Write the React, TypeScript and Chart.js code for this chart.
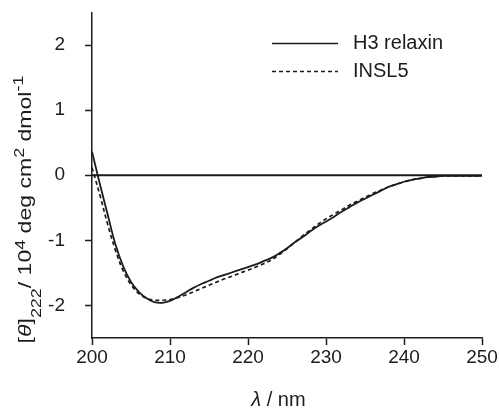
import React, { useEffect, useRef } from 'react';
import { Chart, registerables } from 'chart.js';

Chart.register(...registerables);

const wavelengths = [
  200, 201, 202, 203, 204, 205, 206, 207, 208, 209,
  210, 211, 212, 213, 214, 215, 216, 217, 218, 219,
  220, 221, 222, 223, 224, 225, 226, 227, 228, 229,
  230, 231, 232, 233, 234, 235, 236, 237, 238, 239,
  240, 241, 242, 243, 244, 245, 246, 247, 248, 249, 250,
];

const h3Relaxin = [
  0.36, -0.13, -0.6, -1.06, -1.4, -1.64, -1.79, -1.89, -1.95, -1.96,
  -1.93, -1.87, -1.8, -1.73, -1.67, -1.62, -1.57, -1.53, -1.49, -1.45,
  -1.41, -1.37, -1.32, -1.27, -1.2, -1.12, -1.03, -0.95, -0.86, -0.78,
  -0.71, -0.64, -0.56, -0.49, -0.42, -0.36, -0.3, -0.24, -0.18, -0.14,
  -0.1, -0.07, -0.05, -0.03, -0.02, -0.01, -0.01, -0.01, -0.01, -0.01, -0.01,
];

const insl5 = [
  0.12, -0.3, -0.75, -1.15, -1.47, -1.68, -1.82, -1.89, -1.92, -1.92,
  -1.91, -1.88, -1.84, -1.79, -1.74, -1.69, -1.64, -1.59, -1.55, -1.5,
  -1.46, -1.41, -1.36, -1.3, -1.22, -1.13, -1.03, -0.93, -0.84, -0.75,
  -0.67, -0.6, -0.53, -0.46, -0.4, -0.34, -0.28, -0.23, -0.18, -0.14,
  -0.1, -0.07, -0.05, -0.03, -0.02, -0.01, -0.01, -0.01, -0.01, -0.01, -0.01,
];

const xTicks = [200, 210, 220, 230, 240, 250];
const yTicks = [-2, -1, 0, 1, 2];
const seriesNames = ['H3 relaxin', 'INSL5'];

const FONT = '"Liberation Sans", Arial, Helvetica, sans-serif';
const INK = '#1c1c1c';

const overlayPlugin = {
  id: 'overlay',
  afterDraw(chart: any) {
    const ctx = chart.ctx as CanvasRenderingContext2D;
    ctx.save();
    ctx.fillStyle = INK;
    ctx.strokeStyle = INK;

    // Legend
    const lx0 = 272;
    const lx1 = 338;
    const rows = [43.5, 71.5];
    rows.forEach((y, i) => {
      ctx.beginPath();
      ctx.lineWidth = 1.5;
      ctx.setLineDash(i === 0 ? [] : [4, 3]);
      ctx.moveTo(lx0, y);
      ctx.lineTo(lx1, y);
      ctx.stroke();
      ctx.setLineDash([]);
      ctx.font = `20px ${FONT}`;
      ctx.textBaseline = 'middle';
      ctx.textAlign = 'left';
      ctx.fillText(seriesNames[i], 353, y);
    });

    // X title: λ / nm
    ctx.textBaseline = 'alphabetic';
    ctx.textAlign = 'left';
    const xParts = [
      { t: 'λ', f: `italic 20px ${FONT}` },
      { t: ' / nm', f: `20px ${FONT}` },
    ];
    let tw = 0;
    xParts.forEach((p) => { ctx.font = p.f; tw += ctx.measureText(p.t).width; });
    let cx = 278.5 - tw / 2;
    xParts.forEach((p) => { ctx.font = p.f; ctx.fillText(p.t, cx, 406); cx += ctx.measureText(p.t).width; });

    // Y title rotated
    const yParts = [
      { t: '[', f: `18px ${FONT}`, dy: 0 },
      { t: 'θ', f: `italic 18px ${FONT}`, dy: 0 },
      { t: ']', f: `18px ${FONT}`, dy: 0 },
      { t: '222', f: `14px ${FONT}`, dy: 10 },
      { t: '/ 10', f: `18px ${FONT}`, dy: 0 },
      { t: '4', f: `14px ${FONT}`, dy: -6 },
      { t: ' deg cm', f: `18px ${FONT}`, dy: 0 },
      { t: '2', f: `14px ${FONT}`, dy: -7 },
      { t: ' dmol', f: `18px ${FONT}`, dy: 0 },
      { t: '-1', f: `14px ${FONT}`, dy: -8 },
    ];
    ctx.translate(31, 209.5);
    ctx.rotate(-Math.PI / 2);
    ctx.scale(1.28, 1);
    let total = 0;
    yParts.forEach((p) => { ctx.font = p.f; total += ctx.measureText(p.t).width; });
    let px = -total / 2;
    yParts.forEach((p) => {
      ctx.font = p.f;
      ctx.fillText(p.t, px, p.dy);
      px += ctx.measureText(p.t).width;
    });
    ctx.restore();
  },
};

export default function App() {
  const canvasRef = useRef<HTMLCanvasElement | null>(null);

  useEffect(() => {
    const canvas = canvasRef.current;
    if (!canvas) return;
    const pts = (arr: number[]) => wavelengths.map((x, i) => ({ x, y: arr[i] }));
    const chart = new Chart(canvas, {
      type: 'line',
      data: {
        datasets: [
          {
            label: 'zero',
            data: [{ x: 200, y: 0 }, { x: 250, y: 0 }],
            borderColor: INK,
            borderWidth: 2,
            pointRadius: 0,
            tension: 0,
          },
          {
            label: seriesNames[0],
            data: pts(h3Relaxin),
            borderColor: INK,
            borderWidth: 1.8,
            pointRadius: 0,
            tension: 0.35,
          },
          {
            label: seriesNames[1],
            data: pts(insl5),
            borderColor: INK,
            borderWidth: 1.7,
            borderDash: [4, 3],
            pointRadius: 0,
            tension: 0.35,
          },
        ],
      },
      options: {
        responsive: false,
        animation: false,
        events: [],
        layout: { padding: { top: 12.5, right: 17, left: 0, bottom: 0 } },
        plugins: { legend: { display: false }, tooltip: { enabled: false } },
        scales: {
          x: {
            type: 'linear',
            min: 200,
            max: 250,
            afterBuildTicks: (s: any) => { s.ticks = xTicks.map((v) => ({ value: v })); },
            afterFit: (s: any) => { s.height = 70; s.paddingLeft = 0; s.paddingRight = 0; },
            grid: { display: true, drawOnChartArea: false, drawTicks: true, tickLength: 7, tickWidth: 1.5, tickColor: INK },
            border: { display: true, color: INK, width: 1.5 },
            ticks: { color: INK, font: { family: FONT, size: 19 }, padding: 1, maxRotation: 0 },
          },
          y: {
            type: 'linear',
            min: -2.5,
            max: 2.5,
            afterBuildTicks: (s: any) => { s.ticks = yTicks.map((v) => ({ value: v })); },
            afterFit: (s: any) => { s.width = 92; s.paddingTop = 0; s.paddingBottom = 0; },
            grid: { display: true, drawOnChartArea: false, drawTicks: true, tickLength: 7, tickWidth: 1.5, tickColor: INK },
            border: { display: true, color: INK, width: 1.5 },
            ticks: { color: INK, font: { family: FONT, size: 19 }, padding: 20 },
          },
        },
      },
      plugins: [overlayPlugin],
    } as any);
    return () => chart.destroy();
  }, []);

  return (
    <div style={{ position: 'fixed', left: 0, top: 0, width: 499, height: 408, background: '#fff' }}>
      <canvas ref={canvasRef} width={499} height={408} style={{ display: 'block' }} />
    </div>
  );
}
